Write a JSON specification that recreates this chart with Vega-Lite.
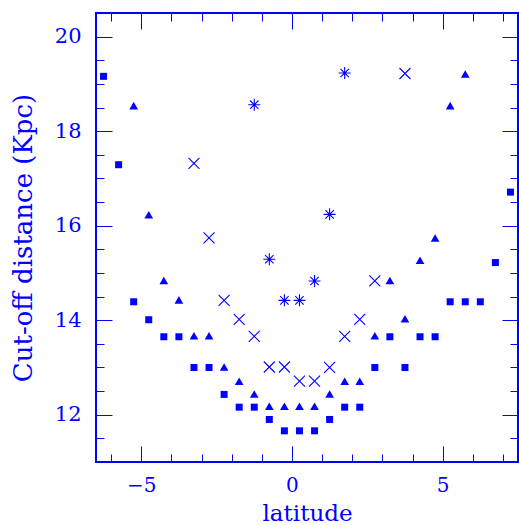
{
  "$schema": "https://vega.github.io/schema/vega-lite/v6.json",
  "width": 422,
  "height": 449,
  "autosize": "none",
  "padding": {"left": 96, "top": 13, "right": 1, "bottom": 63},
  "background": "white",
  "config": {
    "view": {"stroke": "#0000ff", "strokeWidth": 2},
    "axis": {"labelFont": "DejaVu Serif", "titleFont": "DejaVu Serif", "labelColor": "#0000ff", "titleColor": "#0000ff", "tickColor": "#0000ff", "domain": false, "grid": false, "titleFontWeight": "normal"}
  },
  "data": {"values": [
    {"lat": -6.25, "d": 19.16, "s": "sq"}, {"lat": -5.75, "d": 17.29, "s": "sq"}, {"lat": -5.25, "d": 14.39, "s": "sq"}, {"lat": -4.75, "d": 14.01, "s": "sq"},
    {"lat": -4.25, "d": 13.65, "s": "sq"}, {"lat": -3.75, "d": 13.65, "s": "sq"}, {"lat": -3.25, "d": 13.0, "s": "sq"}, {"lat": -2.75, "d": 13.0, "s": "sq"},
    {"lat": -2.25, "d": 12.43, "s": "sq"}, {"lat": -1.75, "d": 12.16, "s": "sq"}, {"lat": -1.25, "d": 12.16, "s": "sq"}, {"lat": -0.75, "d": 11.9, "s": "sq"},
    {"lat": -0.25, "d": 11.66, "s": "sq"}, {"lat": 0.25, "d": 11.66, "s": "sq"}, {"lat": 0.75, "d": 11.66, "s": "sq"}, {"lat": 1.25, "d": 11.9, "s": "sq"},
    {"lat": 1.75, "d": 12.16, "s": "sq"}, {"lat": 2.25, "d": 12.16, "s": "sq"}, {"lat": 2.75, "d": 13.0, "s": "sq"}, {"lat": 3.25, "d": 13.65, "s": "sq"},
    {"lat": 3.75, "d": 13.0, "s": "sq"}, {"lat": 4.25, "d": 13.65, "s": "sq"}, {"lat": 4.75, "d": 13.65, "s": "sq"}, {"lat": 5.25, "d": 14.39, "s": "sq"},
    {"lat": 5.75, "d": 14.39, "s": "sq"}, {"lat": 6.25, "d": 14.39, "s": "sq"}, {"lat": 6.75, "d": 15.22, "s": "sq"}, {"lat": 7.25, "d": 16.71, "s": "sq"},
    {"lat": -5.25, "d": 18.54, "s": "tr"}, {"lat": -4.75, "d": 16.23, "s": "tr"}, {"lat": -4.25, "d": 14.84, "s": "tr"}, {"lat": -3.75, "d": 14.43, "s": "tr"},
    {"lat": -3.25, "d": 13.67, "s": "tr"}, {"lat": -2.75, "d": 13.67, "s": "tr"}, {"lat": -2.25, "d": 13.01, "s": "tr"}, {"lat": -1.75, "d": 12.71, "s": "tr"},
    {"lat": -1.25, "d": 12.44, "s": "tr"}, {"lat": -0.75, "d": 12.18, "s": "tr"}, {"lat": -0.25, "d": 12.18, "s": "tr"}, {"lat": 0.25, "d": 12.18, "s": "tr"},
    {"lat": 0.75, "d": 12.18, "s": "tr"}, {"lat": 1.25, "d": 12.44, "s": "tr"}, {"lat": 1.75, "d": 12.71, "s": "tr"}, {"lat": 2.25, "d": 12.71, "s": "tr"},
    {"lat": 2.75, "d": 13.67, "s": "tr"}, {"lat": 3.25, "d": 14.84, "s": "tr"}, {"lat": 3.75, "d": 14.03, "s": "tr"}, {"lat": 4.25, "d": 15.27, "s": "tr"},
    {"lat": 4.75, "d": 15.74, "s": "tr"}, {"lat": 5.25, "d": 18.54, "s": "tr"}, {"lat": 5.75, "d": 19.21, "s": "tr"},
    {"lat": -3.25, "d": 17.32, "s": "x"}, {"lat": -2.75, "d": 15.74, "s": "x"}, {"lat": -2.25, "d": 14.42, "s": "x"}, {"lat": -1.75, "d": 14.02, "s": "x"},
    {"lat": -1.25, "d": 13.66, "s": "x"}, {"lat": -0.75, "d": 13.01, "s": "x"}, {"lat": -0.25, "d": 13.01, "s": "x"}, {"lat": 0.25, "d": 12.71, "s": "x"},
    {"lat": 0.75, "d": 12.71, "s": "x"}, {"lat": 1.25, "d": 13.0, "s": "x"}, {"lat": 1.75, "d": 13.66, "s": "x"}, {"lat": 2.25, "d": 14.02, "s": "x"},
    {"lat": 2.75, "d": 14.83, "s": "x"}, {"lat": 3.75, "d": 19.22, "s": "x"},
    {"lat": -1.25, "d": 18.56, "s": "ast"}, {"lat": -0.75, "d": 15.29, "s": "ast"}, {"lat": -0.25, "d": 14.42, "s": "ast"}, {"lat": 0.25, "d": 14.42, "s": "ast"},
    {"lat": 0.75, "d": 14.83, "s": "ast"}, {"lat": 1.25, "d": 16.24, "s": "ast"}, {"lat": 1.75, "d": 19.23, "s": "ast"}
  ]},
  "resolve": {"axis": {"x": "independent", "y": "independent"}},
  "layer": [
    {
      "transform": [{"filter": "datum.s === 'sq'"}],
      "mark": {"type": "point", "shape": "square", "filled": true, "color": "#0000ff", "opacity": 1, "size": 49},
      "encoding": {
        "x": {"field": "lat", "type": "quantitative", "scale": {"domain": [-6.5, 7.5], "nice": false, "zero": false},
          "axis": {"orient": "bottom", "title": "latitude", "titleFontSize": 23, "titleY": 58, "titleBaseline": "alphabetic", "labelFontSize": 20, "ticks": false, "labelPadding": 13, "values": [-5, 0, 5], "labelFlush": false}},
        "y": {"field": "d", "type": "quantitative", "scale": {"domain": [11, 20.5], "nice": false, "zero": false},
          "axis": {"orient": "left", "title": "Cut-off distance (Kpc)", "titleFontSize": 26, "titleX": -65, "titleBaseline": "alphabetic", "labelFontSize": 21, "ticks": false, "labelPadding": 15, "values": [12, 14, 16, 18, 20], "labelFlush": false}}
      }
    },
    {
      "transform": [{"filter": "datum.s === 'tr'"}],
      "mark": {"type": "point", "shape": "triangle-up", "filled": true, "color": "#0000ff", "opacity": 1, "size": 76},
      "encoding": {
        "x": {"field": "lat", "type": "quantitative",
          "axis": {"orient": "bottom", "title": null, "labels": false, "values": [-6, -5, -4, -3, -2, -1, 0, 1, 2, 3, 4, 5, 6, 7],
            "tickSize": {"condition": {"test": "datum.value % 5 === 0", "value": -16}, "value": -8}, "tickWidth": 1}},
        "y": {"field": "d", "type": "quantitative",
          "axis": {"orient": "left", "title": null, "labels": false, "values": [11.5, 12, 12.5, 13, 13.5, 14, 14.5, 15, 15.5, 16, 16.5, 17, 17.5, 18, 18.5, 19, 19.5, 20],
            "tickSize": {"condition": {"test": "datum.value % 2 === 0", "value": -16}, "value": -8}, "tickWidth": 1}}
      }
    },
    {
      "transform": [{"filter": "datum.s === 'x'"}],
      "mark": {"type": "point", "shape": "M-1,-1L1,1M-1,1L1,-1", "filled": false, "color": "#0000ff", "opacity": 1, "size": 121, "strokeWidth": 1.1},
      "encoding": {
        "x": {"field": "lat", "type": "quantitative",
          "axis": {"orient": "top", "title": null, "labels": false, "values": [-6, -5, -4, -3, -2, -1, 0, 1, 2, 3, 4, 5, 6, 7],
            "tickSize": {"condition": {"test": "datum.value % 5 === 0", "value": -16}, "value": -8}, "tickWidth": 1}},
        "y": {"field": "d", "type": "quantitative",
          "axis": {"orient": "right", "title": null, "labels": false, "values": [11.5, 12, 12.5, 13, 13.5, 14, 14.5, 15, 15.5, 16, 16.5, 17, 17.5, 18, 18.5, 19, 19.5, 20],
            "tickSize": {"condition": {"test": "datum.value % 2 === 0", "value": -16}, "value": -8}, "tickWidth": 1}}
      }
    },
    {
      "transform": [{"filter": "datum.s === 'ast'"}],
      "mark": {"type": "point", "shape": "M0,-1L0,1M-1,0L1,0M-0.7,-0.7L0.7,0.7M-0.7,0.7L0.7,-0.7", "filled": false, "color": "#0000ff", "opacity": 1, "size": 144, "strokeWidth": 1.1},
      "encoding": {
        "x": {"field": "lat", "type": "quantitative", "axis": null},
        "y": {"field": "d", "type": "quantitative", "axis": null}
      }
    }
  ]
}
